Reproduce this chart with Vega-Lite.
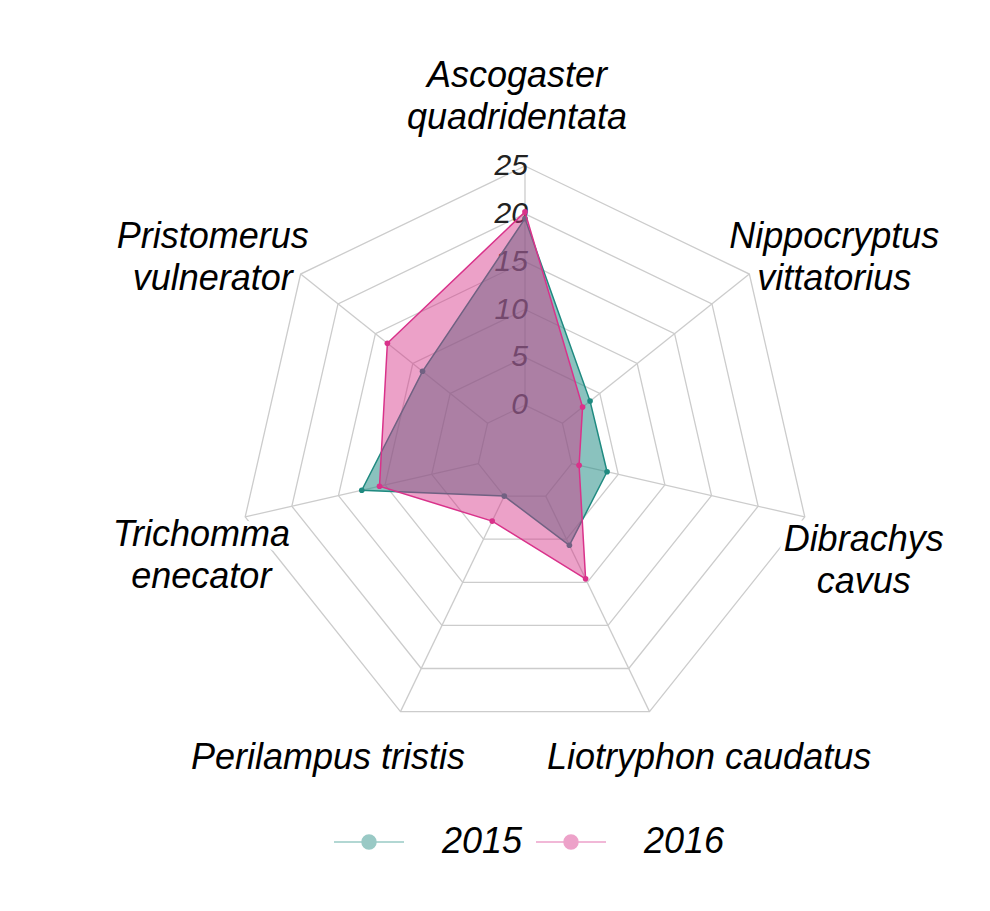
{
  "$schema": "https://vega.github.io/schema/vega-lite/v6.json",
  "width": 990,
  "height": 911,
  "padding": 0,
  "autosize": {"type": "none"},
  "background": "white",
  "config": {"view": {"stroke": null}, "font": "Liberation Sans"},
  "datasets": {
    "axes": [
      {"species": "Ascogaster quadridentata", "label": "Ascogaster\nquadridentata", "levels": [0, 5, 10, 15, 20, 25]},
      {"species": "Nippocryptus vittatorius", "label": "Nippocryptus\nvittatorius", "levels": [0, 5, 10, 15, 20, 25]},
      {"species": "Dibrachys cavus", "label": "Dibrachys\ncavus", "levels": [0, 5, 10, 15, 20, 25]},
      {"species": "Liotryphon caudatus", "label": "Liotryphon caudatus", "levels": [0, 5, 10, 15, 20, 25]},
      {"species": "Perilampus tristis", "label": "Perilampus tristis", "levels": [0, 5, 10, 15, 20, 25]},
      {"species": "Trichomma enecator", "label": "Trichomma\nenecator", "levels": [0, 5, 10, 15, 20, 25]},
      {"species": "Pristomerus vulnerator", "label": "Pristomerus\nvulnerator", "levels": [0, 5, 10, 15, 20, 25]}
    ],
    "ticks": [{"v": 0}, {"v": 5}, {"v": 10}, {"v": 15}, {"v": 20}, {"v": 25}],
    "scores": [
      {"species": "Ascogaster quadridentata", "year": "2015", "value": 19.5},
      {"species": "Nippocryptus vittatorius", "year": "2015", "value": 3.7},
      {"species": "Dibrachys cavus", "year": "2015", "value": 3.8},
      {"species": "Liotryphon caudatus", "year": "2015", "value": 5.7},
      {"species": "Perilampus tristis", "year": "2015", "value": 0},
      {"species": "Trichomma enecator", "year": "2015", "value": 12.5},
      {"species": "Pristomerus vulnerator", "year": "2015", "value": 8.7},
      {"species": "Ascogaster quadridentata", "year": "2016", "value": 20.2},
      {"species": "Nippocryptus vittatorius", "year": "2016", "value": 2.7},
      {"species": "Dibrachys cavus", "year": "2016", "value": 0.8},
      {"species": "Liotryphon caudatus", "year": "2016", "value": 9.6},
      {"species": "Perilampus tristis", "year": "2016", "value": 2.9},
      {"species": "Trichomma enecator", "year": "2016", "value": 10.6},
      {"species": "Pristomerus vulnerator", "year": "2016", "value": 13.4}
    ]
  },
  "encoding": {
    "x": {"field": "x", "type": "quantitative", "scale": {"domain": [-54.88, 48.61], "nice": false, "zero": false}, "axis": null},
    "y": {"field": "y", "type": "quantitative", "scale": {"domain": [-47.87, 47.35], "nice": false, "zero": false}, "axis": null}
  },
  "layer": [
    {
      "data": {"name": "axes"},
      "transform": [
        {"window": [{"op": "row_number", "as": "idx"}]},
        {"flatten": ["levels"], "as": ["level"]},
        {"calculate": "(datum.idx - 1) * 2 * PI / 7", "as": "theta"},
        {"calculate": "(datum.level + 5) * sin(datum.theta)", "as": "x"},
        {"calculate": "(datum.level + 5) * cos(datum.theta)", "as": "y"}
      ],
      "mark": {"type": "line", "interpolate": "linear-closed", "stroke": "#cccccc", "strokeWidth": 1.3},
      "encoding": {"detail": {"field": "level", "type": "nominal"}, "order": {"field": "idx", "type": "quantitative"}}
    },
    {
      "data": {"name": "axes"},
      "transform": [
        {"window": [{"op": "row_number", "as": "idx"}]},
        {"calculate": "(datum.idx - 1) * 2 * PI / 7", "as": "theta"},
        {"calculate": "5 * sin(datum.theta)", "as": "x"},
        {"calculate": "5 * cos(datum.theta)", "as": "y"},
        {"calculate": "30 * sin(datum.theta)", "as": "x2"},
        {"calculate": "30 * cos(datum.theta)", "as": "y2"}
      ],
      "mark": {"type": "rule", "stroke": "#cccccc", "strokeWidth": 1.3},
      "encoding": {"x2": {"field": "x2"}, "y2": {"field": "y2"}}
    },
    {
      "data": {"name": "ticks"},
      "transform": [
        {"calculate": "datum.v + 5", "as": "y"},
        {"calculate": "datum.v * 0", "as": "x"}
      ],
      "mark": {"type": "text", "align": "right", "baseline": "middle", "fontSize": 30, "fontStyle": "italic", "fill": "#222222", "dx": 3},
      "encoding": {"text": {"field": "v", "type": "quantitative"}}
    },
    {
      "data": {"name": "scores"},
      "transform": [
        {"window": [{"op": "row_number", "as": "idx"}], "groupby": ["year"]},
        {"filter": "datum.year == '2015'"},
        {"calculate": "(datum.idx - 1) * 2 * PI / 7", "as": "theta"},
        {"calculate": "(datum.value + 5) * sin(datum.theta)", "as": "x"},
        {"calculate": "(datum.value + 5) * cos(datum.theta)", "as": "y"}
      ],
      "mark": {"type": "line", "interpolate": "linear-closed", "fill": "#2a9088", "fillOpacity": 0.55, "stroke": "#1f8a80", "strokeWidth": 1.5},
      "encoding": {"order": {"field": "idx", "type": "quantitative"}}
    },
    {
      "data": {"name": "scores"},
      "transform": [
        {"window": [{"op": "row_number", "as": "idx"}], "groupby": ["year"]},
        {"filter": "datum.year == '2015'"},
        {"calculate": "(datum.idx - 1) * 2 * PI / 7", "as": "theta"},
        {"calculate": "(datum.value + 5) * sin(datum.theta)", "as": "x"},
        {"calculate": "(datum.value + 5) * cos(datum.theta)", "as": "y"}
      ],
      "mark": {"type": "circle", "size": 32, "opacity": 1},
      "encoding": {
        "color": {
          "field": "year", "type": "nominal",
          "scale": {"domain": ["2015", "2016"], "range": ["#1f8a80", "#d9328a"]},
          "legend": {
            "orient": "none", "legendX": 333, "legendY": 806, "direction": "horizontal", "title": null,
            "padding": 0, "offset": 0,
            "symbolType": "M-1,0H-0.2M0.2,0H1M0.2,0A0.2,0.2,0,1,1,-0.2,0A0.2,0.2,0,1,1,0.2,0Z",
            "symbolSize": 4900, "symbolStrokeWidth": 1.5, "symbolOpacity": 0.45,
            "labelFontSize": 36, "labelFont": "Liberation Sans", "labelFontStyle": "italic", "labelColor": "#000000",
            "labelOffset": 37, "columnPadding": 10,
            "encode": {"symbols": {"update": {
              "stroke": {"scale": "color", "field": "value"},
              "fill": {"scale": "color", "field": "value"}
            }}}
          }
        }
      }
    },
    {
      "data": {"name": "scores"},
      "transform": [
        {"window": [{"op": "row_number", "as": "idx"}], "groupby": ["year"]},
        {"filter": "datum.year == '2016'"},
        {"calculate": "(datum.idx - 1) * 2 * PI / 7", "as": "theta"},
        {"calculate": "(datum.value + 5) * sin(datum.theta)", "as": "x"},
        {"calculate": "(datum.value + 5) * cos(datum.theta)", "as": "y"}
      ],
      "mark": {"type": "line", "interpolate": "linear-closed", "fill": "#d42e86", "fillOpacity": 0.45, "stroke": "#d9328a", "strokeWidth": 1.5},
      "encoding": {"order": {"field": "idx", "type": "quantitative"}}
    },
    {
      "data": {"name": "scores"},
      "transform": [
        {"window": [{"op": "row_number", "as": "idx"}], "groupby": ["year"]},
        {"filter": "datum.year == '2016'"},
        {"calculate": "(datum.idx - 1) * 2 * PI / 7", "as": "theta"},
        {"calculate": "(datum.value + 5) * sin(datum.theta)", "as": "x"},
        {"calculate": "(datum.value + 5) * cos(datum.theta)", "as": "y"}
      ],
      "mark": {"type": "circle", "size": 32, "opacity": 1},
      "encoding": {
        "color": {
          "field": "year", "type": "nominal",
          "legend": {
            "orient": "none", "legendX": 333, "legendY": 806, "direction": "horizontal", "title": null,
            "padding": 0, "offset": 0,
            "symbolType": "M-1,0H-0.2M0.2,0H1M0.2,0A0.2,0.2,0,1,1,-0.2,0A0.2,0.2,0,1,1,0.2,0Z",
            "symbolSize": 4900, "symbolStrokeWidth": 1.5, "symbolOpacity": 0.45,
            "labelFontSize": 36, "labelFont": "Liberation Sans", "labelFontStyle": "italic", "labelColor": "#000000",
            "labelOffset": 37, "columnPadding": 10,
            "encode": {"symbols": {"update": {
              "stroke": {"scale": "color", "field": "value"},
              "fill": {"scale": "color", "field": "value"}
            }}}
          }
        }
      }
    },
    {
      "data": {"name": "axes"},
      "transform": [
        {"window": [{"op": "row_number", "as": "idx"}]},
        {"calculate": "(datum.idx - 1) * 2 * PI / 7", "as": "theta"},
        {"calculate": "37.6 * sin(datum.theta)", "as": "x"},
        {"calculate": "37.6 * cos(datum.theta)", "as": "y"}
      ],
      "layer": [
        {"transform": [{"filter": "datum.idx == 1"}], "mark": {"type": "text", "fontSize": 36, "fontStyle": "italic", "fill": "#ffffff", "stroke": "#ffffff", "strokeWidth": 10, "strokeJoin": "round", "lineBreak": "\n", "lineHeight": 42, "baseline": "middle", "align": "center", "dx": -8, "dy": -17}, "encoding": {"text": {"field": "label"}}},
        {"transform": [{"filter": "datum.idx == 2"}], "mark": {"type": "text", "fontSize": 36, "fontStyle": "italic", "fill": "#ffffff", "stroke": "#ffffff", "strokeWidth": 10, "strokeJoin": "round", "lineBreak": "\n", "lineHeight": 42, "baseline": "middle", "align": "center", "dx": 28, "dy": 8}, "encoding": {"text": {"field": "label"}}},
        {"transform": [{"filter": "datum.idx == 3"}], "mark": {"type": "text", "fontSize": 36, "fontStyle": "italic", "fill": "#ffffff", "stroke": "#ffffff", "strokeWidth": 10, "strokeJoin": "round", "lineBreak": "\n", "lineHeight": 42, "baseline": "middle", "align": "center", "dx": -12, "dy": 7}, "encoding": {"text": {"field": "label"}}},
        {"transform": [{"filter": "datum.idx == 6"}], "mark": {"type": "text", "fontSize": 36, "fontStyle": "italic", "fill": "#ffffff", "stroke": "#ffffff", "strokeWidth": 10, "strokeJoin": "round", "lineBreak": "\n", "lineHeight": 42, "baseline": "middle", "align": "center", "dx": 27, "dy": 2}, "encoding": {"text": {"field": "label"}}},
        {"transform": [{"filter": "datum.idx == 7"}], "mark": {"type": "text", "fontSize": 36, "fontStyle": "italic", "fill": "#ffffff", "stroke": "#ffffff", "strokeWidth": 10, "strokeJoin": "round", "lineBreak": "\n", "lineHeight": 42, "baseline": "middle", "align": "center", "dx": -31, "dy": 8}, "encoding": {"text": {"field": "label"}}},
        {"transform": [{"filter": "datum.idx == 1"}], "mark": {"type": "text", "fontSize": 36, "fontStyle": "italic", "color": "#000000", "lineBreak": "\n", "lineHeight": 42, "baseline": "middle", "align": "center", "dx": -8, "dy": -17}, "encoding": {"text": {"field": "label"}}},
        {"transform": [{"filter": "datum.idx == 2"}], "mark": {"type": "text", "fontSize": 36, "fontStyle": "italic", "color": "#000000", "lineBreak": "\n", "lineHeight": 42, "baseline": "middle", "align": "center", "dx": 28, "dy": 8}, "encoding": {"text": {"field": "label"}}},
        {"transform": [{"filter": "datum.idx == 3"}], "mark": {"type": "text", "fontSize": 36, "fontStyle": "italic", "color": "#000000", "lineBreak": "\n", "lineHeight": 42, "baseline": "middle", "align": "center", "dx": -12, "dy": 7}, "encoding": {"text": {"field": "label"}}},
        {"transform": [{"filter": "datum.idx == 4"}], "mark": {"type": "text", "fontSize": 36, "fontStyle": "italic", "color": "#000000", "lineBreak": "\n", "lineHeight": 42, "baseline": "middle", "align": "center", "dx": 28, "dy": -19}, "encoding": {"text": {"field": "label"}}},
        {"transform": [{"filter": "datum.idx == 5"}], "mark": {"type": "text", "fontSize": 36, "fontStyle": "italic", "color": "#000000", "lineBreak": "\n", "lineHeight": 42, "baseline": "middle", "align": "center", "dx": -41, "dy": -19}, "encoding": {"text": {"field": "label"}}},
        {"transform": [{"filter": "datum.idx == 6"}], "mark": {"type": "text", "fontSize": 36, "fontStyle": "italic", "color": "#000000", "lineBreak": "\n", "lineHeight": 42, "baseline": "middle", "align": "center", "dx": 27, "dy": 2}, "encoding": {"text": {"field": "label"}}},
        {"transform": [{"filter": "datum.idx == 7"}], "mark": {"type": "text", "fontSize": 36, "fontStyle": "italic", "color": "#000000", "lineBreak": "\n", "lineHeight": 42, "baseline": "middle", "align": "center", "dx": -31, "dy": 8}, "encoding": {"text": {"field": "label"}}}
      ]
    }
  ]
}
